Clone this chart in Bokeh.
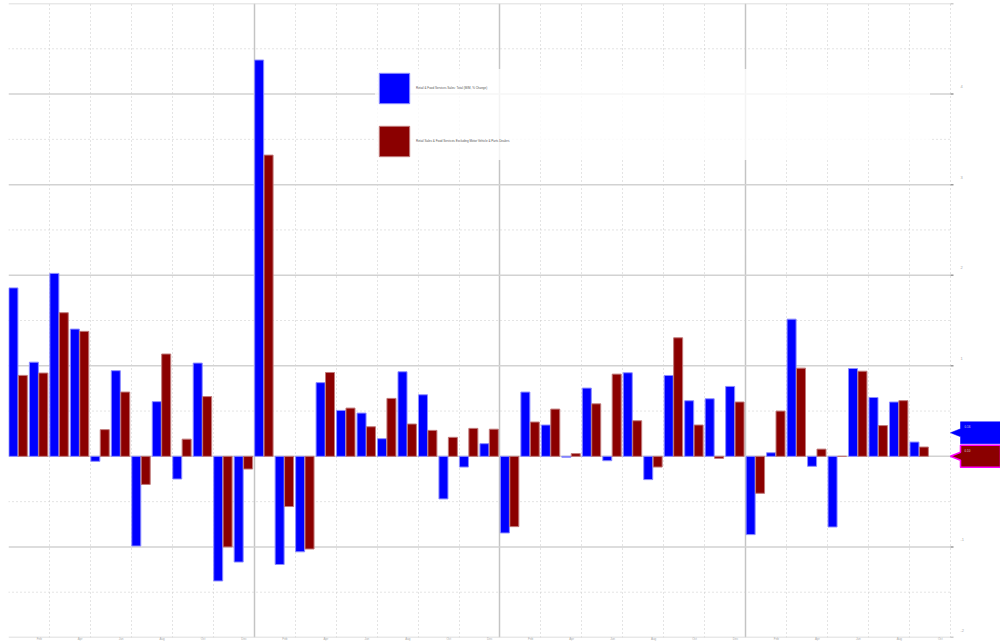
from bokeh.plotting import figure
from bokeh.models import (Range1d, FixedTicker, ColumnDataSource, Legend, LegendItem)
from bokeh.embed import file_html
from bokeh.resources import INLINE

# ---------------- data ----------------
total_sales = [1.86, 1.04, 2.02, 1.405, -0.055, 0.946, -0.99, 0.604, -0.25, 1.03, -1.376, -1.167,
               4.376, -1.194, -1.054, 0.814, 0.507, 0.478, 0.195, 0.934, 0.68, -0.47, -0.118, 0.14,
               -0.846, 0.71, 0.346, -0.01, 0.754, -0.048, 0.923, -0.257, 0.893, 0.614, 0.636, 0.772,
               -0.864, 0.04, 1.515, -0.11, -0.78, 0.97, 0.65, 0.60, 0.158]
ex_auto_sales = [0.894, 0.92, 1.586, 1.38, 0.295, 0.71, -0.31, 1.13, 0.19, 0.66, -1.0, -0.14,
                 3.326, -0.554, -1.023, 0.926, 0.533, 0.327, 0.64, 0.357, 0.287, 0.21, 0.309, 0.30,
                 -0.776, 0.379, 0.522, 0.03, 0.58, 0.908, 0.393, -0.118, 1.309, 0.346, -0.022, 0.60,
                 -0.408, 0.5, 0.974, 0.08, 0.0, 0.94, 0.34, 0.615, 0.103]
series_names = ["Retail & Food Services Sales: Total (M/M, % Change)",
                "Retail Sales & Food Services Excluding Motor Vehicle & Parts Dealers"]
month_names = ["Jan", "Feb", "Mar", "Apr", "May", "Jun", "Jul", "Aug", "Sep", "Oct", "Nov", "Dec"]
y_ticks = [-2, -1, 0, 1, 2, 3, 4, 5]
y_label_ticks = [-2, -1, 1, 2, 3, 4]   # labels visible in the reference

n = len(total_sales)
n_slots = n + 1                      # plotted month slots (last one empty)
W, H = 992, 640
FRAME_W_PLOT = 942                   # width of the gridded plot area in px
x_end = n_slots * W / FRAME_W_PLOT   # extra room on the right for labels & flags
px = n_slots / FRAME_W_PLOT          # one pixel in x data units

months = list(range(n))
src = ColumnDataSource(dict(
    xb=[m + 0.24 for m in months],
    xr=[m + 0.70 for m in months],
    b=total_sales, r=ex_auto_sales))

p = figure(width=W, height=H, output_backend="svg", toolbar_location=None,
           x_range=Range1d(0, x_end), y_range=Range1d(min(y_ticks), max(y_ticks)),
           y_axis_location=None, min_border_left=0, min_border_top=0,
           min_border_right=0, min_border_bottom=6)
p.styles = {"margin-left": "8px", "margin-top": "3px"}
p.outline_line_color = None
p.background_fill_color = "white"
p.border_fill_color = "white"

# vertical grid (years solid, every second month dotted)
p.xgrid.ticker = FixedTicker(ticks=list(range(0, n_slots, 12)),
                             minor_ticks=[m for m in range(0, n_slots + 1, 2) if m % 12 != 0])
p.xgrid.grid_line_color = "#c4c4c4"
p.xgrid.grid_line_width = 1.5
p.xgrid.minor_grid_line_color = "#c8c8c8"
p.xgrid.minor_grid_line_dash = "1 3"
p.xgrid.minor_grid_line_width = 1
p.ygrid.grid_line_color = None

# horizontal grid, limited to the gridded area
half_ticks = [t + 0.5 for t in y_ticks[:-1]]
p.segment(x0=[0] * len(half_ticks), x1=[n_slots] * len(half_ticks), y0=half_ticks, y1=half_ticks,
          line_color="#c8c8c8", line_width=1, line_dash="1 3")
p.segment(x0=[0] * len(y_ticks), x1=[n_slots] * len(y_ticks), y0=y_ticks, y1=y_ticks,
          line_color="#d2d2d2", line_width=1.5)
# right-hand tick marks and labels
p.segment(x0=[n_slots] * len(y_ticks), x1=[n_slots + 3 * px] * len(y_ticks), y0=y_ticks, y1=y_ticks,
          line_color="#9a9a9a", line_width=1.5)
p.text(x=[n_slots + 10 * px] * len(y_label_ticks), y=y_label_ticks,
       text=[str(t) for t in y_label_ticks],
       text_font_size="4px", text_color="#aaaaaa", text_baseline="bottom", y_offset=-6)

# bars
rb = p.vbar(x="xb", top="b", bottom=0, width=0.44, source=src,
            fill_color="#0000ff", line_color="#8c8cff", line_width=1)
rr = p.vbar(x="xr", top="r", bottom=0, width=0.44, source=src,
            fill_color="#8b0000", line_color="#c07a7a", line_width=1)

# bottom axis: month labels between the dotted lines
xa = p.xaxis[0]
label_pos = [m + 0.5 for m in range(1, n_slots, 2)]
xa.ticker = FixedTicker(ticks=label_pos)
xa.major_label_overrides = {pos: month_names[int(pos) % 12] for pos in label_pos}
xa.axis_line_color = None
xa.major_tick_in = 0
xa.major_tick_out = 0
xa.minor_tick_in = 0
xa.minor_tick_out = 0
xa.minor_tick_line_color = None
xa.major_label_text_font_size = "3px"
xa.major_label_text_color = "#aaaaaa"
xa.major_label_standoff = 0

# legend
legend = Legend(items=[LegendItem(label=series_names[0], renderers=[rb]),
                       LegendItem(label=series_names[1], renderers=[rr])],
                location=(367, 634 - 66 - 91),
                glyph_width=38, glyph_height=38, label_height=38, label_width=514,
                label_standoff=3, spacing=15, padding=0, margin=0,
                label_text_font_size="3px", label_text_color="#555555",
                background_fill_color="white", background_fill_alpha=0.8,
                border_line_color=None)
p.add_layout(legend, "center")

# last-value flags on the right
mid = (total_sales[-1] + ex_auto_sales[-1]) / 2
flag_specs = [(total_sales[-1], mid + 0.13, "#0000ff", "#0000ff", 0.5),
              (ex_auto_sales[-1], mid - 0.13, "#8b0000", "#ff00ff", 1.5)]
hh, ah = 11 / 90.6, 4 / 90.6
x_tip, x_base, x_right = n_slots, n_slots + 10 * px, x_end
for val, yc, fc, lc, lw in flag_specs:
    p.patch(x=[x_tip, x_base, x_base, x_right, x_right, x_base, x_base],
            y=[yc, yc + ah, yc + hh, yc + hh, yc - hh, yc - hh, yc - ah],
            fill_color=fc, line_color=lc, line_width=lw)
    p.text(x=[x_base + 4 * px], y=[yc + hh], text=[f"{val:.2f}"],
           text_font_size="3px", text_color="#dddddd", text_baseline="top", y_offset=3)

open("out.html", "w").write(file_html(p, INLINE))
